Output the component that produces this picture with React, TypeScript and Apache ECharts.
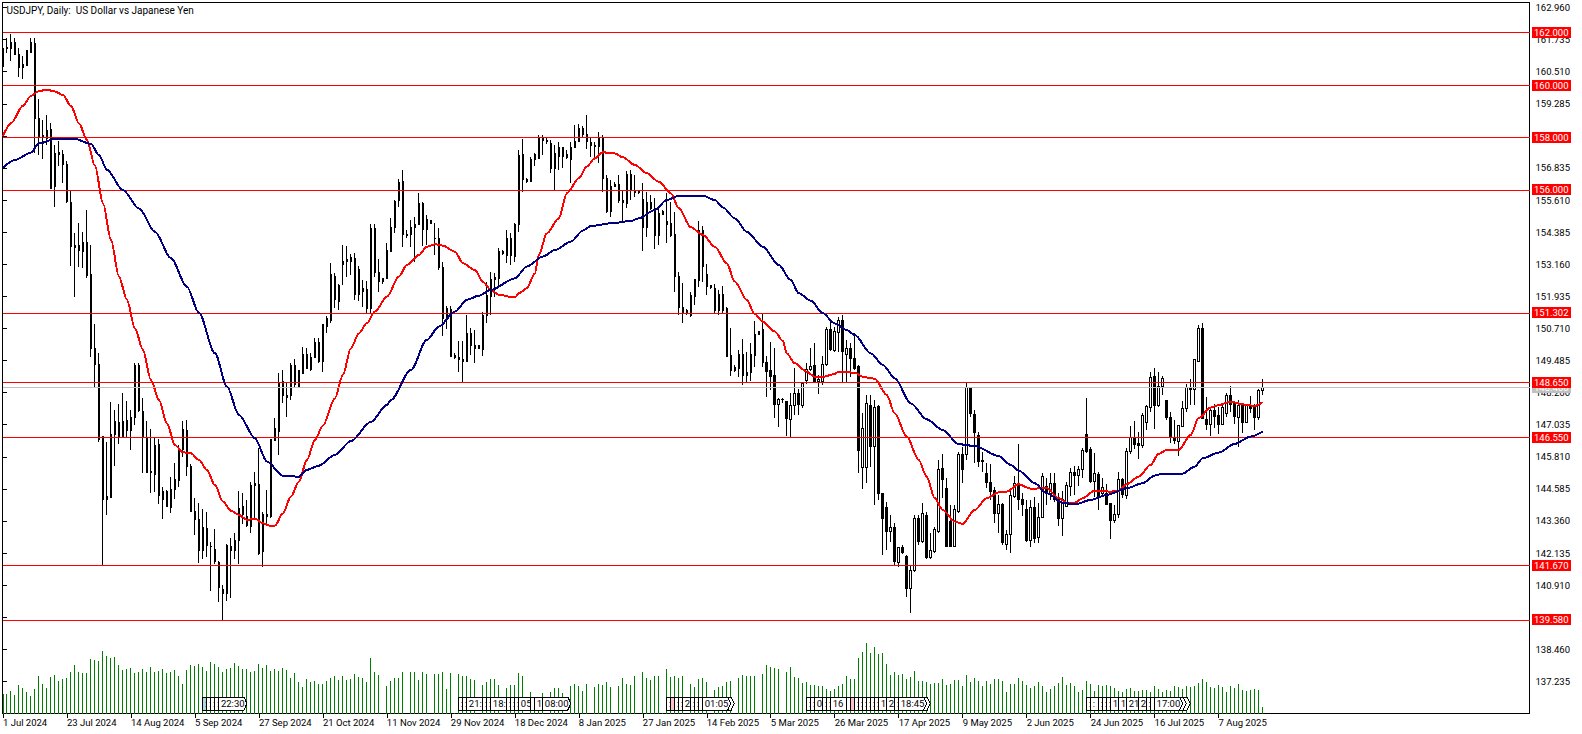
import { useEffect, useRef } from 'react';
import * as echarts from 'echarts';

const FONT = 'Roboto, sans-serif';

// labels sit on every 16th bar
const dateLabels = [
  '1 Jul 2024', '23 Jul 2024', '14 Aug 2024', '5 Sep 2024', '27 Sep 2024', '21 Oct 2024', '11 Nov 2024',
  '29 Nov 2024', '18 Dec 2024', '8 Jan 2025', '27 Jan 2025', '14 Feb 2025', '5 Mar 2025', '26 Mar 2025',
  '17 Apr 2025', '9 May 2025', '2 Jun 2025', '24 Jun 2025', '16 Jul 2025', '7 Aug 2025',
];

const priceTicks = [
  137.235, 138.46, 139.685, 140.91, 142.135, 143.36, 144.585, 145.81, 147.035, 148.26, 149.485, 150.71,
  151.935, 153.16, 154.385, 155.61, 156.835, 158.06, 159.285, 160.51, 161.735, 162.96,
];

const levelPrices = [162, 160, 158, 156, 151.302, 148.65, 146.55, 141.67, 139.58];
const lastPrice = 148.46;

// open, close, low, high
const candles = [
  [161.40, 160.70, 160.70, 161.40], [161.42, 161.40, 161.24, 161.78], [161.40, 161.63, 160.93, 161.95], [161.63, 161.18, 161.18, 161.78],
  [161.18, 160.66, 160.30, 161.40], [160.66, 160.77, 160.23, 161.11], [160.73, 161.30, 160.71, 161.30], [161.24, 161.63, 161.21, 161.78],
  [161.60, 158.73, 157.39, 161.78], [158.73, 158.03, 157.33, 159.47], [158.00, 158.09, 157.17, 158.67], [157.97, 158.28, 157.71, 158.86],
  [158.31, 156.06, 156.06, 158.54], [156.12, 157.37, 155.36, 157.71], [157.36, 157.43, 156.92, 157.86], [157.36, 156.97, 156.27, 157.52],
  [156.98, 155.55, 155.51, 157.11], [155.52, 153.83, 153.11, 155.97], [153.80, 153.88, 151.92, 154.34], [153.88, 153.68, 153.07, 154.72],
  [153.64, 154.00, 153.00, 154.40], [154.00, 152.72, 152.62, 155.23], [152.75, 149.95, 149.61, 153.90], [149.95, 149.34, 148.49, 150.88],
  [149.32, 146.45, 146.39, 149.76], [146.58, 144.16, 141.68, 146.61], [144.16, 144.29, 143.59, 146.36], [144.25, 146.67, 144.23, 147.89],
  [146.67, 147.15, 145.44, 147.60], [147.13, 146.55, 146.29, 147.81], [146.55, 147.15, 146.52, 148.23], [147.18, 146.81, 146.54, 147.94],
  [146.81, 147.32, 146.05, 147.60], [147.32, 149.28, 147.02, 149.38], [149.28, 147.57, 147.50, 149.38], [147.53, 146.55, 145.18, 148.04],
  [146.52, 145.21, 145.18, 147.19], [145.23, 145.21, 144.44, 146.86], [145.12, 146.25, 144.47, 146.55], [146.26, 144.34, 144.01, 146.48],
  [144.19, 144.49, 143.45, 144.65], [144.49, 143.91, 143.91, 144.55], [143.88, 144.57, 143.68, 145.05], [144.57, 144.95, 144.20, 145.56],
  [144.91, 146.07, 144.65, 146.26], [146.07, 146.86, 145.79, 147.19], [146.83, 145.44, 145.09, 147.22], [145.44, 143.72, 143.72, 145.54],
  [143.73, 143.42, 142.83, 144.24], [143.42, 142.23, 141.77, 144.04], [142.23, 143.12, 141.90, 143.81], [143.08, 142.41, 142.00, 143.70],
  [142.38, 142.37, 140.69, 142.55], [142.28, 141.80, 141.72, 143.05], [141.78, 140.82, 140.28, 141.85], [140.73, 140.59, 139.56, 140.92],
  [140.60, 142.41, 140.32, 142.47], [142.38, 142.25, 140.43, 142.70], [142.23, 142.62, 141.90, 142.89], [142.61, 143.84, 141.72, 144.49],
  [143.93, 143.59, 143.25, 144.44], [143.53, 143.17, 143.14, 144.16], [143.14, 144.73, 142.89, 144.86], [144.72, 144.80, 143.40, 145.22],
  [144.77, 142.10, 142.06, 146.13], [142.19, 143.62, 141.62, 143.72], [143.62, 143.53, 143.17, 144.54], [143.53, 146.45, 143.46, 146.45],
  [146.43, 146.90, 146.43, 147.28], [146.77, 148.62, 145.88, 149.02], [148.68, 148.14, 147.85, 149.12], [148.07, 148.14, 147.34, 148.68],
  [148.14, 149.28, 147.98, 149.38], [149.28, 148.55, 148.49, 149.53], [148.49, 149.09, 148.43, 149.09], [148.97, 149.72, 148.97, 150.01],
  [149.72, 149.19, 149.19, 149.95], [149.15, 149.61, 149.10, 149.76], [149.61, 150.18, 149.57, 150.33], [150.18, 149.44, 149.38, 150.33],
  [149.44, 150.84, 149.06, 150.88], [150.78, 151.07, 150.52, 151.19], [151.03, 152.75, 150.91, 153.20], [152.71, 151.80, 151.48, 152.81],
  [151.73, 152.33, 151.41, 152.39], [153.14, 153.27, 152.37, 153.89], [153.26, 153.35, 152.69, 153.87], [153.25, 153.42, 152.75, 153.55],
  [153.39, 151.99, 151.80, 153.58], [151.99, 152.97, 151.76, 153.09], [152.22, 152.10, 151.52, 152.56], [152.18, 151.48, 151.29, 152.53],
  [151.48, 154.53, 151.29, 154.70], [154.53, 152.84, 152.69, 154.70], [152.85, 152.50, 152.11, 153.35], [152.50, 152.62, 152.41, 152.62],
  [152.60, 153.67, 152.58, 153.96], [153.64, 154.57, 153.64, 154.91], [154.56, 155.57, 154.34, 155.61], [155.59, 156.29, 155.33, 156.41],
  [156.30, 154.28, 153.83, 156.76], [154.30, 154.24, 154.15, 154.47], [154.28, 154.57, 153.83, 154.85], [154.56, 154.68, 153.23, 154.98],
  [154.68, 155.49, 154.66, 155.87], [155.49, 154.49, 153.86, 155.55], [154.49, 154.85, 153.89, 155.04], [154.82, 154.70, 154.70, 154.82],
  [154.15, 154.14, 153.51, 154.72], [154.15, 153.03, 152.94, 154.53], [153.04, 151.07, 150.42, 153.23], [151.07, 151.48, 150.68, 151.58],
  [151.44, 149.63, 149.61, 151.57], [149.67, 149.61, 149.53, 149.76], [149.61, 149.51, 149.06, 150.21], [149.53, 149.44, 148.68, 150.21],
  [149.44, 150.52, 149.42, 151.22], [150.52, 150.04, 149.70, 150.74], [150.05, 149.93, 149.38, 150.65], [149.93, 150.04, 149.91, 150.08],
  [149.91, 151.22, 149.66, 151.32], [151.19, 151.95, 150.91, 152.50], [151.92, 152.59, 151.22, 152.85], [152.56, 152.66, 151.92, 152.81],
  [152.62, 153.64, 152.28, 153.79], [153.65, 153.55, 153.51, 153.70], [153.51, 154.15, 153.20, 154.47], [154.15, 153.51, 153.13, 154.34],
  [153.47, 154.68, 153.26, 154.75], [154.66, 157.30, 154.40, 157.52], [157.33, 156.38, 155.93, 157.94], [156.38, 156.31, 156.27, 156.44],
  [156.31, 157.14, 156.29, 157.27], [157.14, 157.33, 156.89, 157.42], [157.20, 157.99, 157.16, 158.09], [157.99, 157.88, 157.33, 158.09],
  [157.90, 157.86, 157.74, 157.97], [157.75, 156.80, 156.66, 157.90], [156.82, 157.37, 155.99, 157.71], [157.29, 157.62, 156.76, 157.84],
  [157.62, 157.27, 156.82, 157.65], [157.33, 157.24, 157.16, 157.52], [157.16, 157.62, 156.25, 157.84], [157.62, 157.86, 157.58, 158.47],
  [157.84, 158.35, 157.84, 158.51], [158.35, 158.12, 157.97, 158.44], [158.12, 157.84, 157.55, 158.86], [157.81, 157.69, 157.27, 157.97],
  [157.71, 157.65, 157.27, 157.84], [157.65, 157.97, 157.01, 158.20], [157.99, 156.44, 155.93, 158.09], [156.44, 155.17, 155.10, 156.57],
  [155.17, 156.12, 154.95, 156.38], [156.12, 156.22, 156.10, 156.31], [156.19, 155.59, 155.49, 156.57], [155.61, 155.52, 154.82, 155.99],
  [155.49, 156.57, 155.30, 156.72], [156.57, 155.97, 155.61, 156.76], [155.97, 155.89, 155.74, 156.57], [155.97, 155.89, 155.83, 156.00],
  [155.64, 154.56, 153.68, 156.25], [154.56, 155.52, 154.19, 155.93], [155.52, 155.30, 155.23, 155.80], [155.30, 154.25, 153.74, 155.68],
  [154.25, 155.10, 153.90, 155.30], [155.06, 155.18, 155.04, 155.23], [154.79, 154.66, 153.96, 155.87], [154.72, 154.24, 154.19, 155.55],
  [154.28, 152.69, 152.11, 155.17], [152.71, 151.50, 151.22, 152.88], [151.50, 151.29, 150.93, 152.43], [151.29, 151.41, 151.22, 151.44],
  [151.20, 151.95, 151.16, 152.11], [151.92, 152.56, 151.60, 152.56], [152.53, 154.43, 152.30, 154.81], [154.43, 153.07, 152.50, 154.62],
  [152.75, 152.30, 151.99, 153.16], [152.34, 152.27, 152.20, 152.37], [152.24, 151.38, 151.29, 152.39], [151.38, 152.02, 151.22, 152.18],
  [152.02, 151.41, 151.26, 152.33], [151.48, 149.63, 149.61, 151.52], [149.66, 149.12, 148.91, 150.71], [149.11, 149.22, 149.06, 149.31],
  [149.18, 149.72, 148.87, 149.89], [149.73, 148.93, 148.55, 150.31], [148.93, 149.03, 148.61, 149.82], [149.02, 149.70, 148.70, 150.17],
  [149.67, 150.49, 149.25, 150.99], [150.49, 150.59, 150.46, 150.61], [150.65, 149.42, 149.25, 151.29], [149.42, 149.06, 148.08, 149.66],
  [149.12, 148.87, 148.36, 150.18], [148.90, 147.79, 147.30, 149.95], [147.79, 147.98, 146.94, 148.04], [148.00, 147.99, 147.85, 148.04],
  [147.92, 147.28, 146.60, 147.94], [147.24, 147.78, 146.58, 148.23], [147.75, 148.23, 147.41, 149.19], [148.23, 147.79, 147.41, 148.39],
  [147.78, 148.61, 147.66, 148.68], [148.74, 149.16, 148.59, 149.38], [149.16, 149.25, 149.10, 149.95], [149.28, 148.68, 148.64, 150.14],
  [148.68, 148.77, 148.19, 148.93], [148.68, 149.32, 148.55, 149.66], [149.32, 150.68, 149.28, 150.78], [150.65, 149.89, 149.86, 150.97],
  [149.85, 150.61, 149.79, 150.78], [150.55, 151.03, 149.82, 151.16], [151.03, 149.82, 148.68, 151.22], [149.72, 149.95, 148.68, 150.27],
  [149.93, 149.57, 148.87, 150.17], [149.57, 149.19, 149.12, 150.52], [149.25, 146.05, 145.18, 149.31], [145.41, 146.90, 144.57, 147.47],
  [145.41, 147.83, 144.82, 148.17], [147.75, 146.20, 145.43, 148.17], [146.20, 147.70, 143.97, 147.98], [147.73, 144.42, 144.16, 147.79],
  [144.42, 143.45, 142.06, 144.42], [143.88, 142.95, 142.25, 144.07], [142.95, 143.12, 142.57, 143.59], [143.12, 141.81, 141.64, 143.30],
  [141.78, 142.36, 141.62, 142.38], [142.36, 142.15, 142.10, 142.45], [142.00, 140.78, 140.47, 142.06], [140.78, 141.46, 139.86, 141.67],
  [141.46, 143.44, 141.43, 143.59], [143.44, 142.57, 142.44, 143.59], [142.57, 143.65, 142.51, 144.03], [143.57, 141.96, 141.90, 143.72],
  [141.96, 142.25, 141.92, 142.89], [142.21, 143.02, 142.15, 143.14], [142.95, 145.33, 142.89, 145.69], [145.37, 144.93, 144.23, 145.90],
  [144.61, 142.38, 142.36, 144.99], [143.35, 142.38, 142.36, 143.97], [142.38, 143.81, 142.36, 143.97], [143.72, 145.91, 143.68, 146.01],
  [145.91, 145.31, 144.80, 146.20], [145.88, 148.46, 145.69, 148.64], [148.46, 147.47, 147.34, 148.46], [147.44, 146.73, 145.56, 147.60],
  [146.62, 145.63, 145.43, 146.77], [145.63, 145.66, 145.24, 146.00], [145.18, 144.82, 144.61, 145.56], [144.84, 144.48, 144.16, 145.52],
  [144.52, 143.65, 143.27, 144.67], [143.65, 144.00, 142.89, 144.35], [143.97, 142.53, 142.45, 144.03], [142.47, 142.85, 142.25, 143.02],
  [142.83, 144.33, 142.13, 144.54], [144.29, 144.80, 144.23, 145.08], [144.80, 144.19, 143.78, 146.29], [144.19, 144.00, 143.53, 144.42],
  [143.78, 142.63, 142.57, 144.16], [142.61, 143.88, 142.38, 144.16], [143.88, 142.70, 142.51, 144.29], [142.74, 143.50, 142.53, 144.03],
  [143.50, 145.05, 143.46, 145.18], [144.67, 144.42, 143.97, 144.99], [144.42, 144.80, 144.16, 145.18], [144.80, 144.16, 144.10, 145.18],
  [144.16, 143.46, 143.17, 144.42], [143.46, 144.16, 142.80, 144.51], [143.91, 144.70, 143.88, 144.86], [144.67, 145.22, 144.33, 145.37],
  [145.22, 145.09, 144.35, 145.44], [145.09, 145.33, 144.71, 145.46], [145.31, 146.06, 144.99, 146.13], [146.67, 146.03, 145.97, 148.04],
  [146.07, 144.86, 144.82, 146.20], [144.86, 145.18, 144.29, 145.94], [145.15, 144.31, 143.76, 145.24], [144.42, 144.65, 144.29, 144.99],
  [144.42, 143.97, 143.97, 144.77], [144.01, 143.37, 142.67, 144.04], [143.37, 143.59, 143.30, 143.97], [143.59, 144.93, 143.46, 145.22],
  [144.93, 144.38, 144.23, 144.99], [144.35, 146.03, 144.20, 146.13], [146.01, 146.54, 145.92, 146.99], [146.54, 146.26, 146.10, 147.19],
  [146.33, 146.24, 145.73, 146.77], [146.24, 147.39, 146.13, 147.47], [147.13, 147.71, 146.83, 147.79], [147.69, 148.84, 147.51, 149.06],
  [148.86, 147.76, 146.87, 149.19], [147.75, 148.49, 147.72, 149.06], [148.48, 148.81, 148.17, 148.90], [147.94, 147.30, 147.22, 147.94],
  [147.29, 146.58, 146.33, 147.53], [146.54, 146.43, 146.30, 147.22], [146.41, 147.02, 145.84, 147.02], [146.96, 147.66, 146.94, 147.95],
  [147.66, 148.46, 147.50, 148.59], [148.44, 148.39, 147.79, 148.78], [148.36, 149.51, 147.79, 149.53], [149.44, 150.71, 149.44, 150.84],
  [150.71, 147.28, 147.24, 150.91], [147.24, 147.06, 146.83, 148.08], [147.04, 147.57, 146.61, 147.70], [147.56, 147.34, 146.90, 147.83],
  [147.37, 147.06, 146.68, 147.70], [147.06, 147.70, 147.03, 147.85], [147.45, 148.16, 147.34, 148.23], [148.13, 147.81, 147.53, 148.51],
  [147.83, 147.34, 147.06, 147.92], [147.32, 147.75, 146.20, 147.98], [147.75, 147.13, 146.73, 147.79], [147.11, 147.76, 147.09, 147.79],
  [147.78, 147.65, 147.47, 148.13], [147.69, 147.30, 146.83, 147.83], [147.29, 148.34, 147.22, 148.39], [148.34, 148.46, 148.15, 148.78],
];

const tickVolumes = [
  60, 60, 69, 57, 87, 78, 66, 54, 75, 114,
  90, 78, 111, 117, 99, 105, 108, 126, 147, 126,
  123, 123, 165, 162, 159, 189, 174, 168, 171, 147,
  132, 135, 138, 123, 126, 135, 126, 141, 126, 129,
  135, 123, 126, 132, 114, 90, 132, 147, 144, 150,
  141, 129, 156, 150, 141, 126, 135, 138, 153, 144,
  135, 135, 126, 129, 150, 138, 147, 129, 135, 129,
  138, 132, 108, 123, 96, 81, 105, 96, 99, 90,
  90, 99, 108, 114, 102, 114, 102, 105, 120, 111,
  108, 96, 168, 126, 117, 0, 84, 99, 108, 108,
  126, 0, 126, 126, 102, 126, 120, 0, 120, 120,
  126, 75, 123, 3, 120, 114, 114, 105, 102, 0,
  87, 96, 105, 105, 87, 0, 78, 87, 87, 123,
  114, 0, 66, 45, 45, 63, 0, 66, 78, 78,
  63, 0, 84, 90, 84, 69, 90, 0, 81, 90,
  87, 96, 81, 0, 84, 108, 90, 87, 114, 0,
  126, 108, 102, 114, 114, 3, 135, 111, 114, 108,
  114, 0, 90, 81, 105, 108, 96, 0, 72, 81,
  84, 96, 99, 0, 108, 117, 114, 114, 114, 0,
  120, 147, 141, 138, 135, 0, 126, 141, 111, 108,
  93, 96, 87, 87, 84, 84, 75, 69, 75, 84,
  90, 114, 105, 105, 168, 186, 213, 183, 201, 180,
  183, 150, 117, 126, 117, 120, 105, 111, 129, 99,
  99, 96, 90, 93, 93, 105, 87, 90, 102, 102,
  84, 117, 96, 108, 99, 84, 99, 90, 105, 105,
  99, 66, 90, 90, 108, 99, 87, 78, 84, 96,
  84, 66, 75, 84, 93, 111, 87, 93, 84, 66,
  72, 99, 90, 69, 87, 84, 87, 84, 78, 69,
  66, 75, 78, 69, 69, 72, 72, 66, 84, 75,
  66, 72, 69, 84, 81, 75, 84, 81, 84, 93,
  105, 96, 81, 78, 87, 81, 66, 84, 78, 90,
  72, 69, 72, 75, 72, 21,
];

// [bar, value]
const maFast = [
  [0, 158.06], [2, 158.54], [5, 159.21], [7, 159.59], [9, 159.77], [11, 159.82], [13, 159.75], [15, 159.62], [17, 159.2], [19, 158.54],
  [21, 157.9], [23, 156.92], [25, 155.49], [27, 154.09], [29, 152.69], [31, 151.8], [33, 150.71], [35, 149.89], [37, 148.74], [39, 147.98],
  [41, 147.09], [43, 146.26], [45, 145.98], [47, 145.94], [49, 145.69], [51, 145.31], [53, 144.73], [55, 144.1], [57, 143.75], [59, 143.59],
  [61, 143.4], [63, 143.45], [65, 143.27], [67, 143.17], [68, 143.18], [70, 143.65], [72, 144.29], [74, 144.86], [76, 145.69], [78, 146.45],
  [80, 147.0], [83, 148.04], [85, 148.93], [87, 149.95], [89, 150.52], [91, 150.91], [93, 151.35], [96, 151.92], [99, 152.69], [101, 153.13],
  [104, 153.51], [106, 153.83], [108, 153.92], [110, 153.87], [113, 153.64], [115, 153.2], [118, 152.94], [120, 152.49], [122, 152.18], [124, 151.99],
  [128, 151.89], [129, 152.05], [131, 152.24], [133, 152.81], [134, 153.51], [136, 154.34], [139, 154.91], [141, 155.87], [144, 156.44], [146, 156.89],
  [148, 157.2], [150, 157.43], [153, 157.39], [155, 157.24], [158, 156.95], [161, 156.63], [164, 156.31], [167, 155.87], [169, 155.3], [172, 154.57],
  [175, 154.28], [178, 153.83], [181, 153.2], [183, 152.5], [186, 151.8], [188, 151.26], [190, 150.97], [193, 150.59], [195, 150.24], [196, 149.76],
  [198, 149.38], [201, 149.06], [203, 148.86], [205, 148.86], [208, 148.97], [209, 149.06], [213, 149.02], [215, 148.86], [218, 148.79], [221, 148.17],
  [223, 147.47], [226, 146.58], [229, 145.69], [231, 145.05], [233, 144.23], [235, 143.78], [238, 143.34], [240, 143.25], [243, 143.78], [246, 144.23],
  [249, 144.45], [251, 144.48], [254, 144.76], [257, 144.59], [261, 144.61], [264, 144.23], [266, 144.06], [268, 144.05], [270, 144.23], [273, 144.51],
  [277, 144.48], [279, 144.51], [281, 144.76], [284, 145.05], [287, 145.5], [289, 145.92], [291, 146.07], [294, 146.07], [297, 146.64], [299, 147.28],
  [302, 147.69], [304, 147.78], [307, 147.92], [310, 147.81], [313, 147.75], [315, 147.89],
];

const maSlow = [
  [0, 156.85], [3, 157.14], [7, 157.42], [9, 157.77], [13, 157.94], [18, 157.94], [22, 157.75], [24, 157.33], [26, 156.76], [30, 155.99],
  [34, 155.29], [38, 154.4], [42, 153.39], [46, 152.3], [49, 151.3], [53, 149.76], [56, 148.49], [59, 147.41], [63, 146.52], [66, 145.63],
  [70, 145.08], [74, 145.05], [76, 145.31], [79, 145.47], [83, 145.88], [87, 146.41], [92, 147.14], [96, 147.79], [97, 147.98], [102, 149.12],
  [106, 150.27], [109, 150.78], [113, 151.35], [116, 151.8], [119, 151.96], [122, 152.18], [128, 152.62], [131, 153.07], [135, 153.45], [138, 153.7],
  [142, 154.02], [145, 154.44], [147, 154.62], [152, 154.72], [157, 154.81], [159, 154.91], [163, 155.23], [166, 155.61], [169, 155.77], [175, 155.78],
  [178, 155.61], [180, 155.33], [183, 154.91], [186, 154.4], [190, 153.83], [194, 153.13], [197, 152.56], [199, 152.05], [202, 151.77], [205, 151.29],
  [208, 150.9], [211, 150.65], [213, 150.46], [217, 149.76], [220, 149.32], [223, 148.81], [227, 147.85], [231, 147.24], [235, 146.83], [239, 146.29],
  [243, 146.22], [249, 145.84], [252, 145.5], [254, 145.28], [258, 144.8], [261, 144.42], [265, 144.06], [268, 143.99], [272, 144.16], [276, 144.35],
  [281, 144.61], [285, 144.8], [288, 145.09], [290, 145.17], [295, 145.17], [298, 145.43], [300, 145.75], [304, 145.97], [308, 146.3], [312, 146.58],
  [315, 146.77],
];

// time flags along the bottom, in drawing order; only the visible part of each text
const flagBars = [
  50, 51, 52, 53, 54,
  114, 115, 116, 120, 121, 122, 126, 127, 128, 129, 132, 133, 135,
  166, 167, 168, 169, 170, 172, 173, 174, 175,
  201, 202, 203, 205, 206, 207, 211, 212, 213, 214, 215, 216, 217, 218, 219, 221, 223, 224,
  271, 272, 274, 275, 276, 277, 279, 281, 284, 286, 287, 288,
];
const flagTexts = [
  ':', ':', ':', ':', '22:30',
  ':', ':', '21:', ':', ':', '18:', ':', ':', ':', '05', '', '1', '08:00',
  ':', '', ':', ':', '2', ':', ':', '', '01:05',
  ':', ':', '0', ':', ':', '16', '', '', ':', ':', ':', ':', ':', ':', '1', '2', ':', '18:45',
  ':', ':', ':', ':', ':', '1', '1', '21', '2', ':', '', '17:00',
];

const BAR_COUNT = 382;
const PRICE_MIN = 136.01;
const PRICE_MAX = 163.15;

const flagTint: Record<number, string> = { 50: '#add8e6', 167: '#ffc0cb', 212: '#ffc0cb' };
const flagLength: Record<number, number> = { 174: 35.5, 223: 35.5, 286: 43.5, 287: 35.5 };

export default function App() {
  const chartRef = useRef<HTMLDivElement>(null);

  useEffect(() => {
    if (!chartRef.current) return;
    const chart = echarts.init(chartRef.current, undefined, { renderer: 'svg' });

    const categories = Array.from({ length: BAR_COUNT }, (_, i) => (i % 16 === 0 && dateLabels[i / 16]) || '');
    const levelLabel = (color: string, bg: string) => ({
      show: true,
      position: 'end',
      distance: 2.5,
      color,
      backgroundColor: bg,
      fontFamily: FONT,
      fontSize: 9.5,
      lineHeight: 11,
      padding: [0, 2],
      formatter: (p: any) => Number(p.value).toFixed(3),
    });

    const option: any = {
      animation: false,
      backgroundColor: '#fff',
      title: {
        text: 'USDJPY, Daily:\u00a0\u00a0US Dollar vs Japanese Yen',
        left: 6.5,
        top: 5,
        padding: 0,
        textStyle: { color: '#000', fontFamily: FONT, fontSize: 10, fontWeight: 'normal' },
      },
      grid: [
        { left: 2.5, top: 2.5, width: 1524, height: 711 },
        { left: 2.5, top: 2.5, width: 1527, height: 711, show: true, borderColor: '#000', borderWidth: 1, backgroundColor: 'transparent' },
      ],
      // candles on the first bar hang over the frame, the chart clips them there
      graphic: [{ type: 'rect', z: 20, silent: true, shape: { x: 0, y: 0, width: 2, height: 734 }, style: { fill: '#fff' } }],
      xAxis: [
        {
          type: 'category',
          gridIndex: 0,
          boundaryGap: false,
          data: categories,
          axisLine: { show: false },
          axisTick: { show: true, length: 4, lineStyle: { color: '#000' }, interval: (_: number, v: string) => v !== '' },
          axisLabel: {
            show: true,
            interval: (_: number, v: string) => v !== '',
            align: 'left',
            margin: 4,
            color: '#000',
            fontFamily: FONT,
            fontSize: 9.5,
            hideOverlap: false,
          },
          splitLine: { show: false },
        },
        { type: 'value', gridIndex: 1, min: 0, max: 1, show: false },
      ],
      yAxis: [
        { type: 'value', gridIndex: 0, min: PRICE_MIN, max: PRICE_MAX, show: false, scale: true },
        { type: 'value', gridIndex: 0, min: 0, max: 2133, show: false },
        {
          type: 'value',
          gridIndex: 1,
          position: 'right',
          min: PRICE_MIN,
          max: PRICE_MAX,
          scale: true,
          axisLine: { show: false },
          axisTick: { show: true, length: 4, lineStyle: { color: '#000' }, customValues: priceTicks },
          axisLabel: {
            show: true,
            margin: 6,
            color: '#000',
            fontFamily: FONT,
            fontSize: 9.5,
            customValues: priceTicks,
            formatter: (v: number) => v.toFixed(3),
          },
          splitLine: { show: false },
        },
      ],
      series: [
        {
          type: 'bar',
          name: 'Volume',
          xAxisIndex: 0,
          yAxisIndex: 1,
          barWidth: 1,
          z: 1,
          itemStyle: { color: '#008000' },
          data: tickVolumes,
        },
        {
          type: 'custom',
          name: 'Flags',
          xAxisIndex: 0,
          yAxisIndex: 1,
          z: 2,
          clip: false,
          encode: { x: 0, y: 1 },
          data: flagBars.map(b => [b, 0]),
          renderItem: (params: any, api: any) => {
            const bar = flagBars[params.dataIndex];
            const [x, base] = api.coord([api.value(0), 0]);
            const top = base - 16.5;
            const len = flagLength[bar] ?? 28;
            return {
              type: 'group',
              children: [
                {
                  type: 'polygon',
                  shape: { points: [[x, top], [x + len - 3, top], [x + len, top + 6.5], [x + len - 3, top + 13], [x, top + 13]] },
                  style: { fill: flagTint[bar] ?? '#fff', stroke: '#000', lineWidth: 1 },
                },
                {
                  type: 'text',
                  x: x + 2,
                  y: top + 1.5,
                  style: { text: flagTexts[params.dataIndex], fill: '#000', fontFamily: FONT, fontSize: 9.5 },
                },
              ],
            };
          },
        },
        {
          type: 'candlestick',
          name: 'USDJPY',
          xAxisIndex: 0,
          yAxisIndex: 0,
          barWidth: 2,
          z: 3,
          itemStyle: { color: '#fff', color0: '#000', borderColor: '#000', borderColor0: '#000', borderWidth: 1 },
          data: candles,
        },
        {
          type: 'line',
          name: 'MA fast',
          xAxisIndex: 0,
          yAxisIndex: 0,
          showSymbol: false,
          smooth: 0.3,
          smoothMonotone: 'x',
          z: 4,
          lineStyle: { color: '#ff0000', width: 2 },
          data: maFast,
        },
        {
          type: 'line',
          name: 'MA slow',
          xAxisIndex: 0,
          yAxisIndex: 0,
          showSymbol: false,
          smooth: 0.3,
          smoothMonotone: 'x',
          z: 5,
          lineStyle: { color: '#000080', width: 2 },
          data: maSlow,
        },
        {
          type: 'line',
          name: 'Levels',
          xAxisIndex: 1,
          yAxisIndex: 2,
          z: 6,
          data: [],
          markLine: {
            silent: true,
            symbol: 'none',
            precision: 3,
            data: [
              { yAxis: lastPrice, lineStyle: { color: '#c0c0c0', width: 1, type: 'solid' }, label: levelLabel('#fff', '#c0c0c0') },
              ...levelPrices.map(v => ({
                yAxis: v,
                lineStyle: { color: '#ff0000', width: 1, type: 'solid' },
                label: levelLabel('#fff', '#ff0000'),
              })),
            ],
          },
        },
      ],
    };

    chart.setOption(option);

    return () => {
      chart.dispose();
    };
  }, []);

  return (
    <>
      <style>{'#usdjpy svg path, #usdjpy svg line, #usdjpy svg rect { shape-rendering: crispEdges; }'}</style>
      <div id="usdjpy" ref={chartRef} style={{ position: 'fixed', left: 0, top: 0, width: 1582, height: 734, background: '#fff' }} />
    </>
  );
}
